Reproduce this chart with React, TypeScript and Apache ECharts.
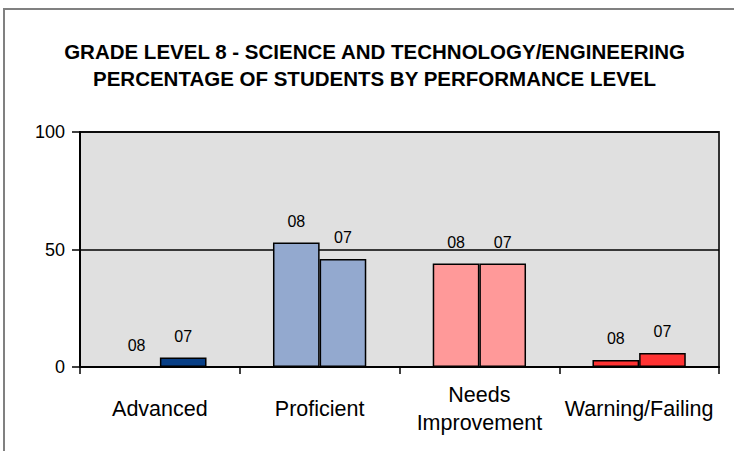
import React, { useEffect, useRef } from "react";
import * as echarts from "echarts";

const categories = ["Advanced", "Proficient", "Needs\nImprovement", "Warning/Failing"];
const series08 = [0, 53, 44, 3];
const series07 = [4, 46, 44, 6];
const seriesNames = ["08", "07"];
const categoryColors = ["#083F86", "#93A9CF", "#FF9999", "#FF3333"];
const yTicks = { min: 0, max: 100, interval: 50 };
const titleLines = [
  "GRADE LEVEL 8 - SCIENCE AND TECHNOLOGY/ENGINEERING",
  "PERCENTAGE OF STUDENTS BY PERFORMANCE LEVEL",
];

export default function App() {
  const ref = useRef<HTMLDivElement>(null);
  useEffect(() => {
    if (!ref.current) return;
    const chart = echarts.init(ref.current, null, { renderer: "svg" });
    const mk = (vals: number[]) =>
      vals.map((v, i) => ({ value: v, itemStyle: { color: categoryColors[i] } }));
    const barStyle = {
      type: "bar" as const,
      barGap: "0%",
      barCategoryGap: "41.6%",
      itemStyle: { borderColor: "#000", borderWidth: 1.5 },
      label: {
        show: true,
        position: "top" as const,
        distance: 13,
        formatter: "{a}",
        color: "#000",
        fontFamily: "Liberation Sans",
        fontSize: 16,
      },
    };
    const titleFont = {
      fontFamily: "Liberation Sans",
      fontWeight: "bold",
      fontSize: 20.5,
      fill: "#000",
      textAlign: "center",
      textVerticalAlign: "middle",
    };
    chart.setOption({
      animation: false,
      backgroundColor: "#fff",
      graphic: [
        {
          type: "rect",
          shape: { x: 4, y: 9, width: 800, height: 600 },
          style: { fill: "none", stroke: "#808080", lineWidth: 2 },
          silent: true,
        },
        {
          type: "text",
          x: 374.5,
          y: 51,
          style: { ...titleFont, text: titleLines[0] },
        },
        {
          type: "text",
          x: 374.5,
          y: 78.5,
          style: { ...titleFont, text: titleLines[1] },
        },
      ],
      grid: {
        left: 80,
        right: 15,
        top: 132,
        bottom: 84,
        show: true,
        backgroundColor: "#E0E0E0",
        borderColor: "#333",
        borderWidth: 2,
      },
      xAxis: {
        type: "category",
        data: categories,
        axisLine: { lineStyle: { color: "#000", width: 2 } },
        axisTick: { show: true, length: 7, lineStyle: { color: "#000", width: 1.5 } },
        axisLabel: {
          color: "#000",
          fontFamily: "Liberation Sans",
          fontSize: 21.5,
          lineHeight: 28,
          margin: 42,
          verticalAlign: "middle",
          interval: 0,
        },
      },
      yAxis: {
        type: "value",
        min: yTicks.min,
        max: yTicks.max,
        interval: yTicks.interval,
        axisLine: { show: true, lineStyle: { color: "#000", width: 2 } },
        axisTick: { show: true, length: 8, lineStyle: { color: "#000", width: 1.5 } },
        axisLabel: {
          color: "#000",
          fontFamily: "Liberation Sans",
          fontSize: 18,
          margin: 15,
        },
        splitLine: { show: true, lineStyle: { color: "#000", width: 1.5 } },
      },
      series: [
        { ...barStyle, name: seriesNames[0], data: mk(series08) },
        { ...barStyle, name: seriesNames[1], data: mk(series07) },
      ],
    });
    return () => chart.dispose();
  }, []);
  return (
    <div
      ref={ref}
      style={{ position: "fixed", left: 0, top: 0, width: 734, height: 451 }}
    />
  );
}
